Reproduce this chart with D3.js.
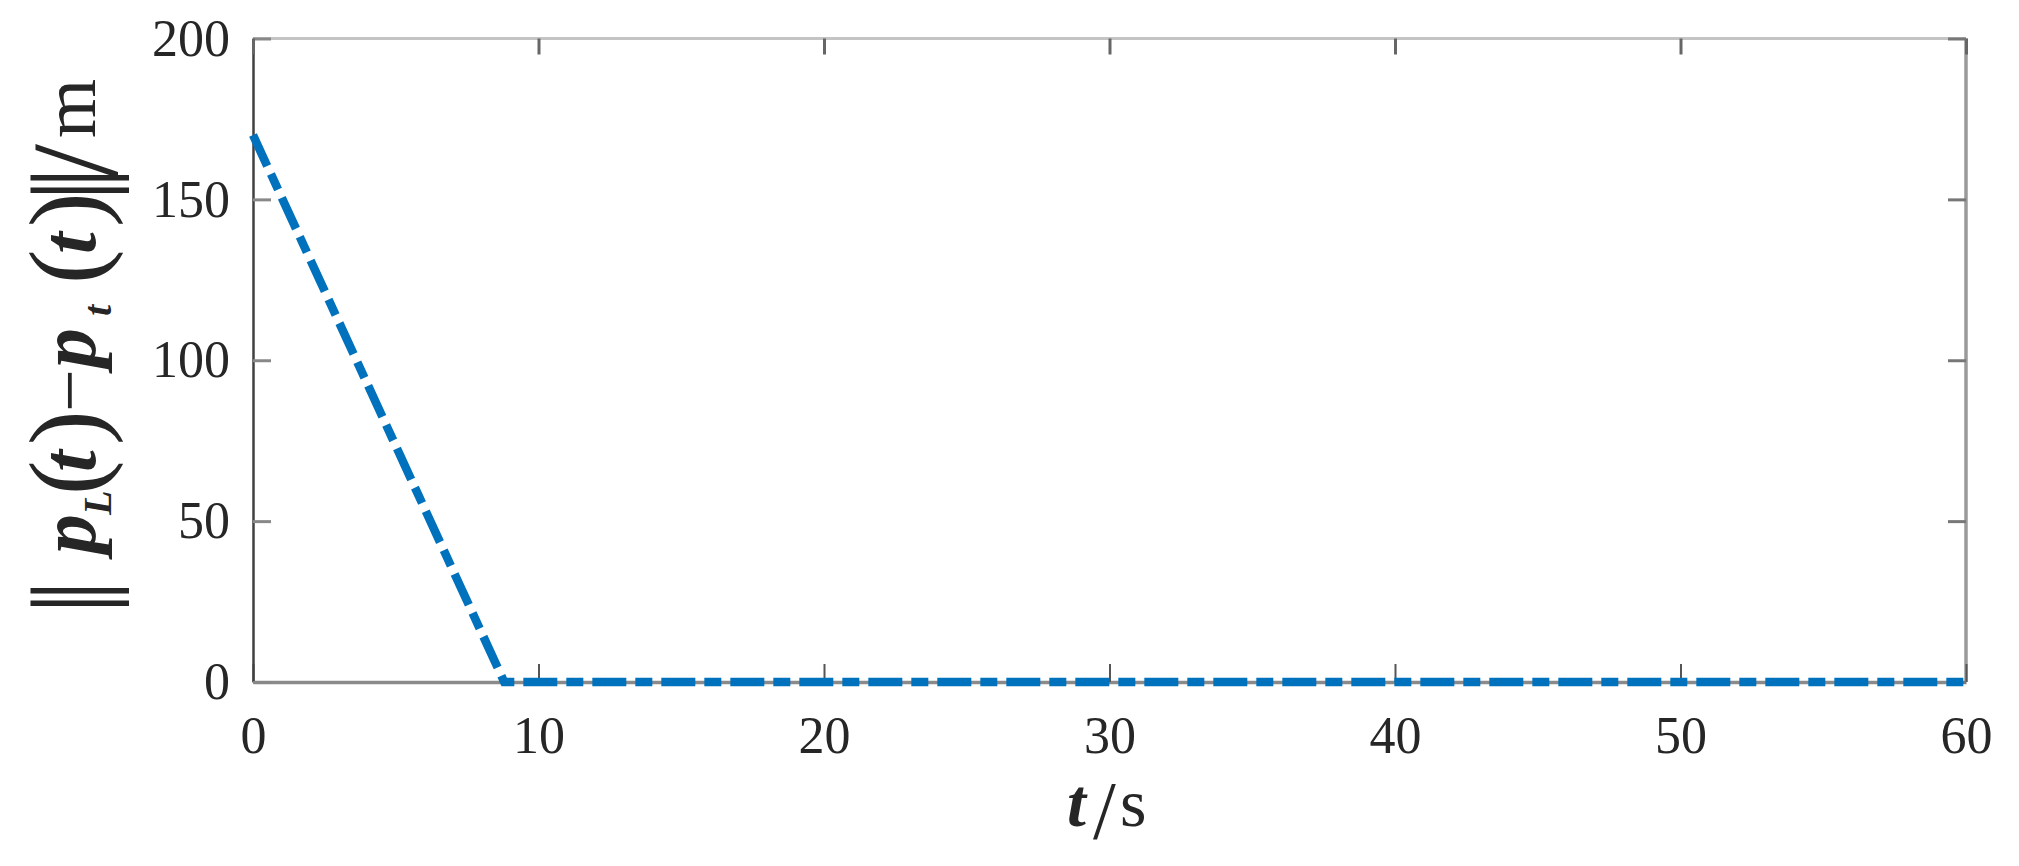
<!DOCTYPE html>
<html>
<head>
<meta charset="utf-8">
<script src="https://cdn.jsdelivr.net/npm/d3@7"></script>
<style>
  html, body { margin: 0; padding: 0; background: #ffffff; }
  svg { display: block; }
  text { font-family: "Liberation Serif", "Times New Roman", serif; fill: #262626; }
</style>
</head>
<body>
<svg id="chart" width="2019" height="866"></svg>
<script>
// ---- data ----
const timeSec = [0, 8.8, 60];
const distance = [170, 0, 0];
const xTicks = [0, 10, 20, 30, 40, 50, 60];
const yTicks = [0, 50, 100, 150, 200];
const xDomain = [0, 60];
const yDomain = [0, 200];

const W = 2019, H = 866;
const margin = { left: 253, right: W - 1966, top: 38.5, bottom: H - 682 };
const svg = d3.select("#chart");

const x = d3.scaleLinear().domain(xDomain).range([margin.left, W - margin.right]);
const y = d3.scaleLinear().domain(yDomain).range([H - margin.bottom, margin.top]);

const tickLen = 18;
const tickFont = 52;

// frame lines (box)
const frame = svg.append("g");
frame.append("line").attr("x1", x(0)).attr("x2", x(60)).attr("y1", y(200)).attr("y2", y(200))
  .attr("stroke", "#c4c4c4").attr("stroke-width", 3);
frame.append("line").attr("x1", x(60)).attr("x2", x(60)).attr("y1", y(200)).attr("y2", y(0))
  .attr("stroke", "#9a9a9a").attr("stroke-width", 3.5);

// bottom axis
const gx = svg.append("g").attr("transform", `translate(0,${y(0)})`)
  .call(d3.axisBottom(x).tickValues(xTicks).tickSizeInner(-tickLen).tickSizeOuter(0).tickPadding(34));
gx.select(".domain").attr("stroke", "#8a8a8a").attr("stroke-width", 3.5);
gx.selectAll(".tick line").attr("stroke", "#555").attr("stroke-width", 2);
gx.selectAll(".tick text").attr("font-size", tickFont).attr("font-family", "Liberation Serif").attr("fill", "#262626");

// left axis
const gy = svg.append("g").attr("transform", `translate(${x(0)},0)`)
  .call(d3.axisLeft(y).tickValues(yTicks).tickSizeInner(-tickLen).tickSizeOuter(0).tickPadding(23));
gy.select(".domain").attr("stroke", "#404040").attr("stroke-width", 2.5);
gy.selectAll(".tick line").attr("stroke", "#888").attr("stroke-width", 3);
gy.selectAll(".tick text").attr("font-size", tickFont).attr("font-family", "Liberation Serif").attr("fill", "#262626");

// top axis (ticks only)
const gt = svg.append("g").attr("transform", `translate(0,${y(200)})`)
  .call(d3.axisTop(x).tickValues(xTicks).tickSizeInner(-16).tickSizeOuter(0).tickFormat(""));
gt.select(".domain").remove();
gt.selectAll(".tick line").attr("stroke", "#666").attr("stroke-width", 3);

// right axis (ticks only)
const gr = svg.append("g").attr("transform", `translate(${x(60)},0)`)
  .call(d3.axisRight(y).tickValues(yTicks).tickSizeInner(-18).tickSizeOuter(0).tickFormat(""));
gr.select(".domain").remove();
gr.selectAll(".tick line").attr("stroke", "#777").attr("stroke-width", 3);

// data line
const pts = timeSec.map((t, i) => [t, distance[i]]);
svg.append("path")
  .attr("d", d3.line().x(d => x(d[0])).y(d => y(d[1]))(pts))
  .attr("fill", "none")
  .attr("stroke", "#0072BD")
  .attr("stroke-width", 8.5)
  .attr("stroke-dasharray", "34,9,17,9");

// x label: t/s
const xl = svg.append("g");
xl.append("text").attr("x", 1067).attr("y", 826).attr("font-size", 68)
  .attr("font-weight", "bold").attr("font-style", "italic").attr("fill", "#000").text("t");
xl.append("text").attr("x", 1093).attr("y", 838).attr("font-size", 82).attr("fill", "#000").text("/");
xl.append("text").attr("x", 1120).attr("y", 826).attr("font-size", 68).attr("fill", "#000").text("s");

// y label: ||p_L(t) − p_t(t)||/m  (rotated)
const yl = svg.append("g").attr("transform", "translate(95,612) rotate(-90)");
const parts = [
  { t: "||", x: -2, y: 11, fs: 108, ls: -9 },
  { t: "p", x: 58, y: 0, fs: 80, b: true, i: true },
  { t: "L", x: 97, y: 16, fs: 40, b: true, i: true },
  { t: "(", x: 117, y: 6, fs: 104 },
  { t: "t", x: 140, y: 0, fs: 78, b: true, i: true },
  { t: ")", x: 167, y: 6, fs: 104 },
  { t: "−", x: 200, y: 0, fs: 76 },
  { t: "p", x: 244, y: 0, fs: 80, b: true, i: true },
  { t: "t", x: 296, y: 16, fs: 40, b: true, i: true },
  { t: "(", x: 328, y: 6, fs: 104 },
  { t: "t", x: 358, y: 0, fs: 78, b: true, i: true },
  { t: ")", x: 385, y: 6, fs: 104 },
  { t: "||", x: 411, y: 11, fs: 108, ls: -9 },
  { t: "/", x: 434, y: 22, fs: 122 },
  { t: "m", x: 474, y: 0, fs: 76 }
];
parts.forEach(p => {
  const el = yl.append("text").attr("x", p.x).attr("y", p.y).attr("font-size", p.fs)
    .attr("fill", "#000").text(p.t);
  if (p.b) el.attr("font-weight", "bold");
  if (p.i) el.attr("font-style", "italic");
  if (p.ls) el.attr("letter-spacing", p.ls);
});
</script>
</body>
</html>
